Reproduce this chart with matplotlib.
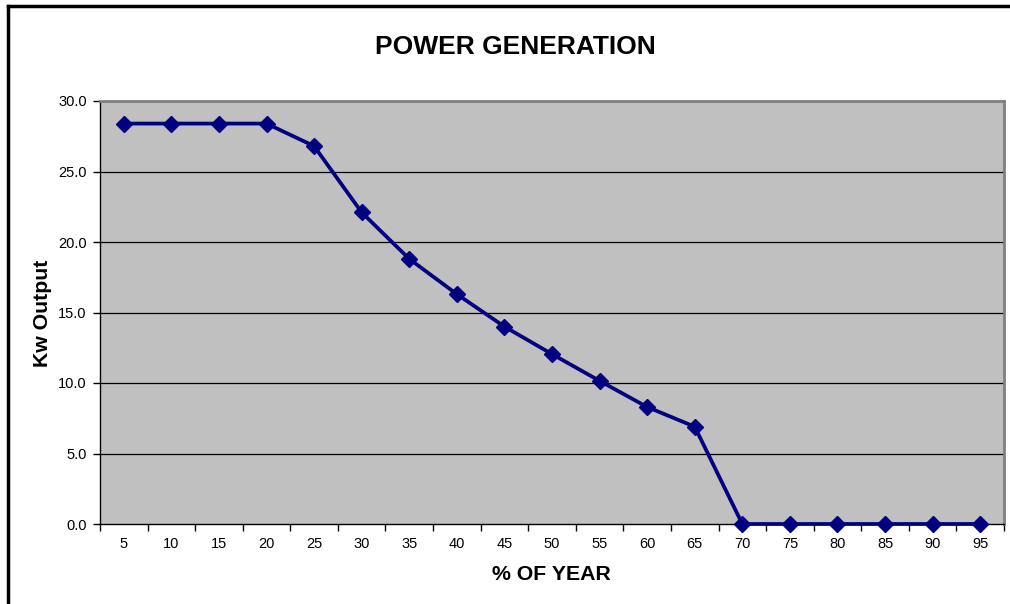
import matplotlib
matplotlib.use("Agg")
import matplotlib.pyplot as plt
from matplotlib.lines import Line2D
import numpy as np

categories = ["5", "10", "15", "20", "25", "30", "35", "40", "45", "50",
              "55", "60", "65", "70", "75", "80", "85", "90", "95"]
kw_output = [28.4, 28.4, 28.4, 28.4, 26.8, 22.1, 18.8, 16.3, 14.0, 12.05,
             10.15, 8.3, 6.9, 0.0, 0.0, 0.0, 0.0, 0.0, 0.0]
y_ticks = [0, 5, 10, 15, 20, 25, 30]

plt.rcParams['font.family'] = ['Liberation Sans', 'DejaVu Sans']

W, H = 1010, 604
fig = plt.figure(figsize=(W / 100, H / 100), dpi=100)
ax = fig.add_axes([100 / W, 1 - 524 / H, (1004 - 100) / W, (524 - 101) / H])
ax.set_facecolor('#C0C0C0')

x = np.arange(len(categories))
ax.plot(x, kw_output, color='#000080', linewidth=2.7, marker='D',
        markersize=8.5, markerfacecolor='#000080', markeredgecolor='#000080',
        zorder=3, clip_on=False)

ax.set_xlim(-0.5, len(categories) - 0.5)
ax.set_ylim(0, 30)
ax.set_yticks(y_ticks)
ax.set_yticklabels([f"{v:.1f}" for v in y_ticks], fontsize=10.5)
ax.set_xticks(x)
ax.set_xticklabels(categories, fontsize=10.5)
ax.set_xticks(np.arange(-0.5, len(categories)), minor=True)
ax.tick_params(axis='x', which='major', length=0, pad=9.5)
ax.tick_params(axis='x', which='minor', length=5, width=1, direction='out', color='black')
ax.tick_params(axis='y', which='major', length=5, width=1, direction='out', color='black', pad=4.5)

for v in y_ticks[1:-1]:
    ax.axhline(v, color='black', linewidth=0.9, zorder=1)

ax.spines['left'].set_color('black')
ax.spines['bottom'].set_color('black')
ax.spines['left'].set_linewidth(1)
ax.spines['bottom'].set_linewidth(1)
ax.spines['top'].set_color('#808080')
ax.spines['right'].set_color('#808080')
ax.spines['top'].set_linewidth(2)
ax.spines['right'].set_linewidth(2)

fig.text(515 / W, 1 - 47 / H, "POWER GENERATION", ha='center', va='center',
         fontsize=19, fontweight='bold')
fig.text(551 / W, 1 - 575 / H, "% OF YEAR", ha='center', va='center',
         fontsize=15.3, fontweight='bold')
fig.text(43 / W, 1 - 313 / H, "Kw Output", ha='center', va='center',
         fontsize=15.3, fontweight='bold', rotation=90)

# figure border (left and top)
fig.add_artist(Line2D([8 / W, 8 / W], [0, 1 - 6 / H], color='black', linewidth=2.5,
                      transform=fig.transFigure))
fig.add_artist(Line2D([8 / W, 1], [1 - 6 / H, 1 - 6 / H], color='black', linewidth=2.5,
                      transform=fig.transFigure))

fig.savefig("out.png", dpi=100)
